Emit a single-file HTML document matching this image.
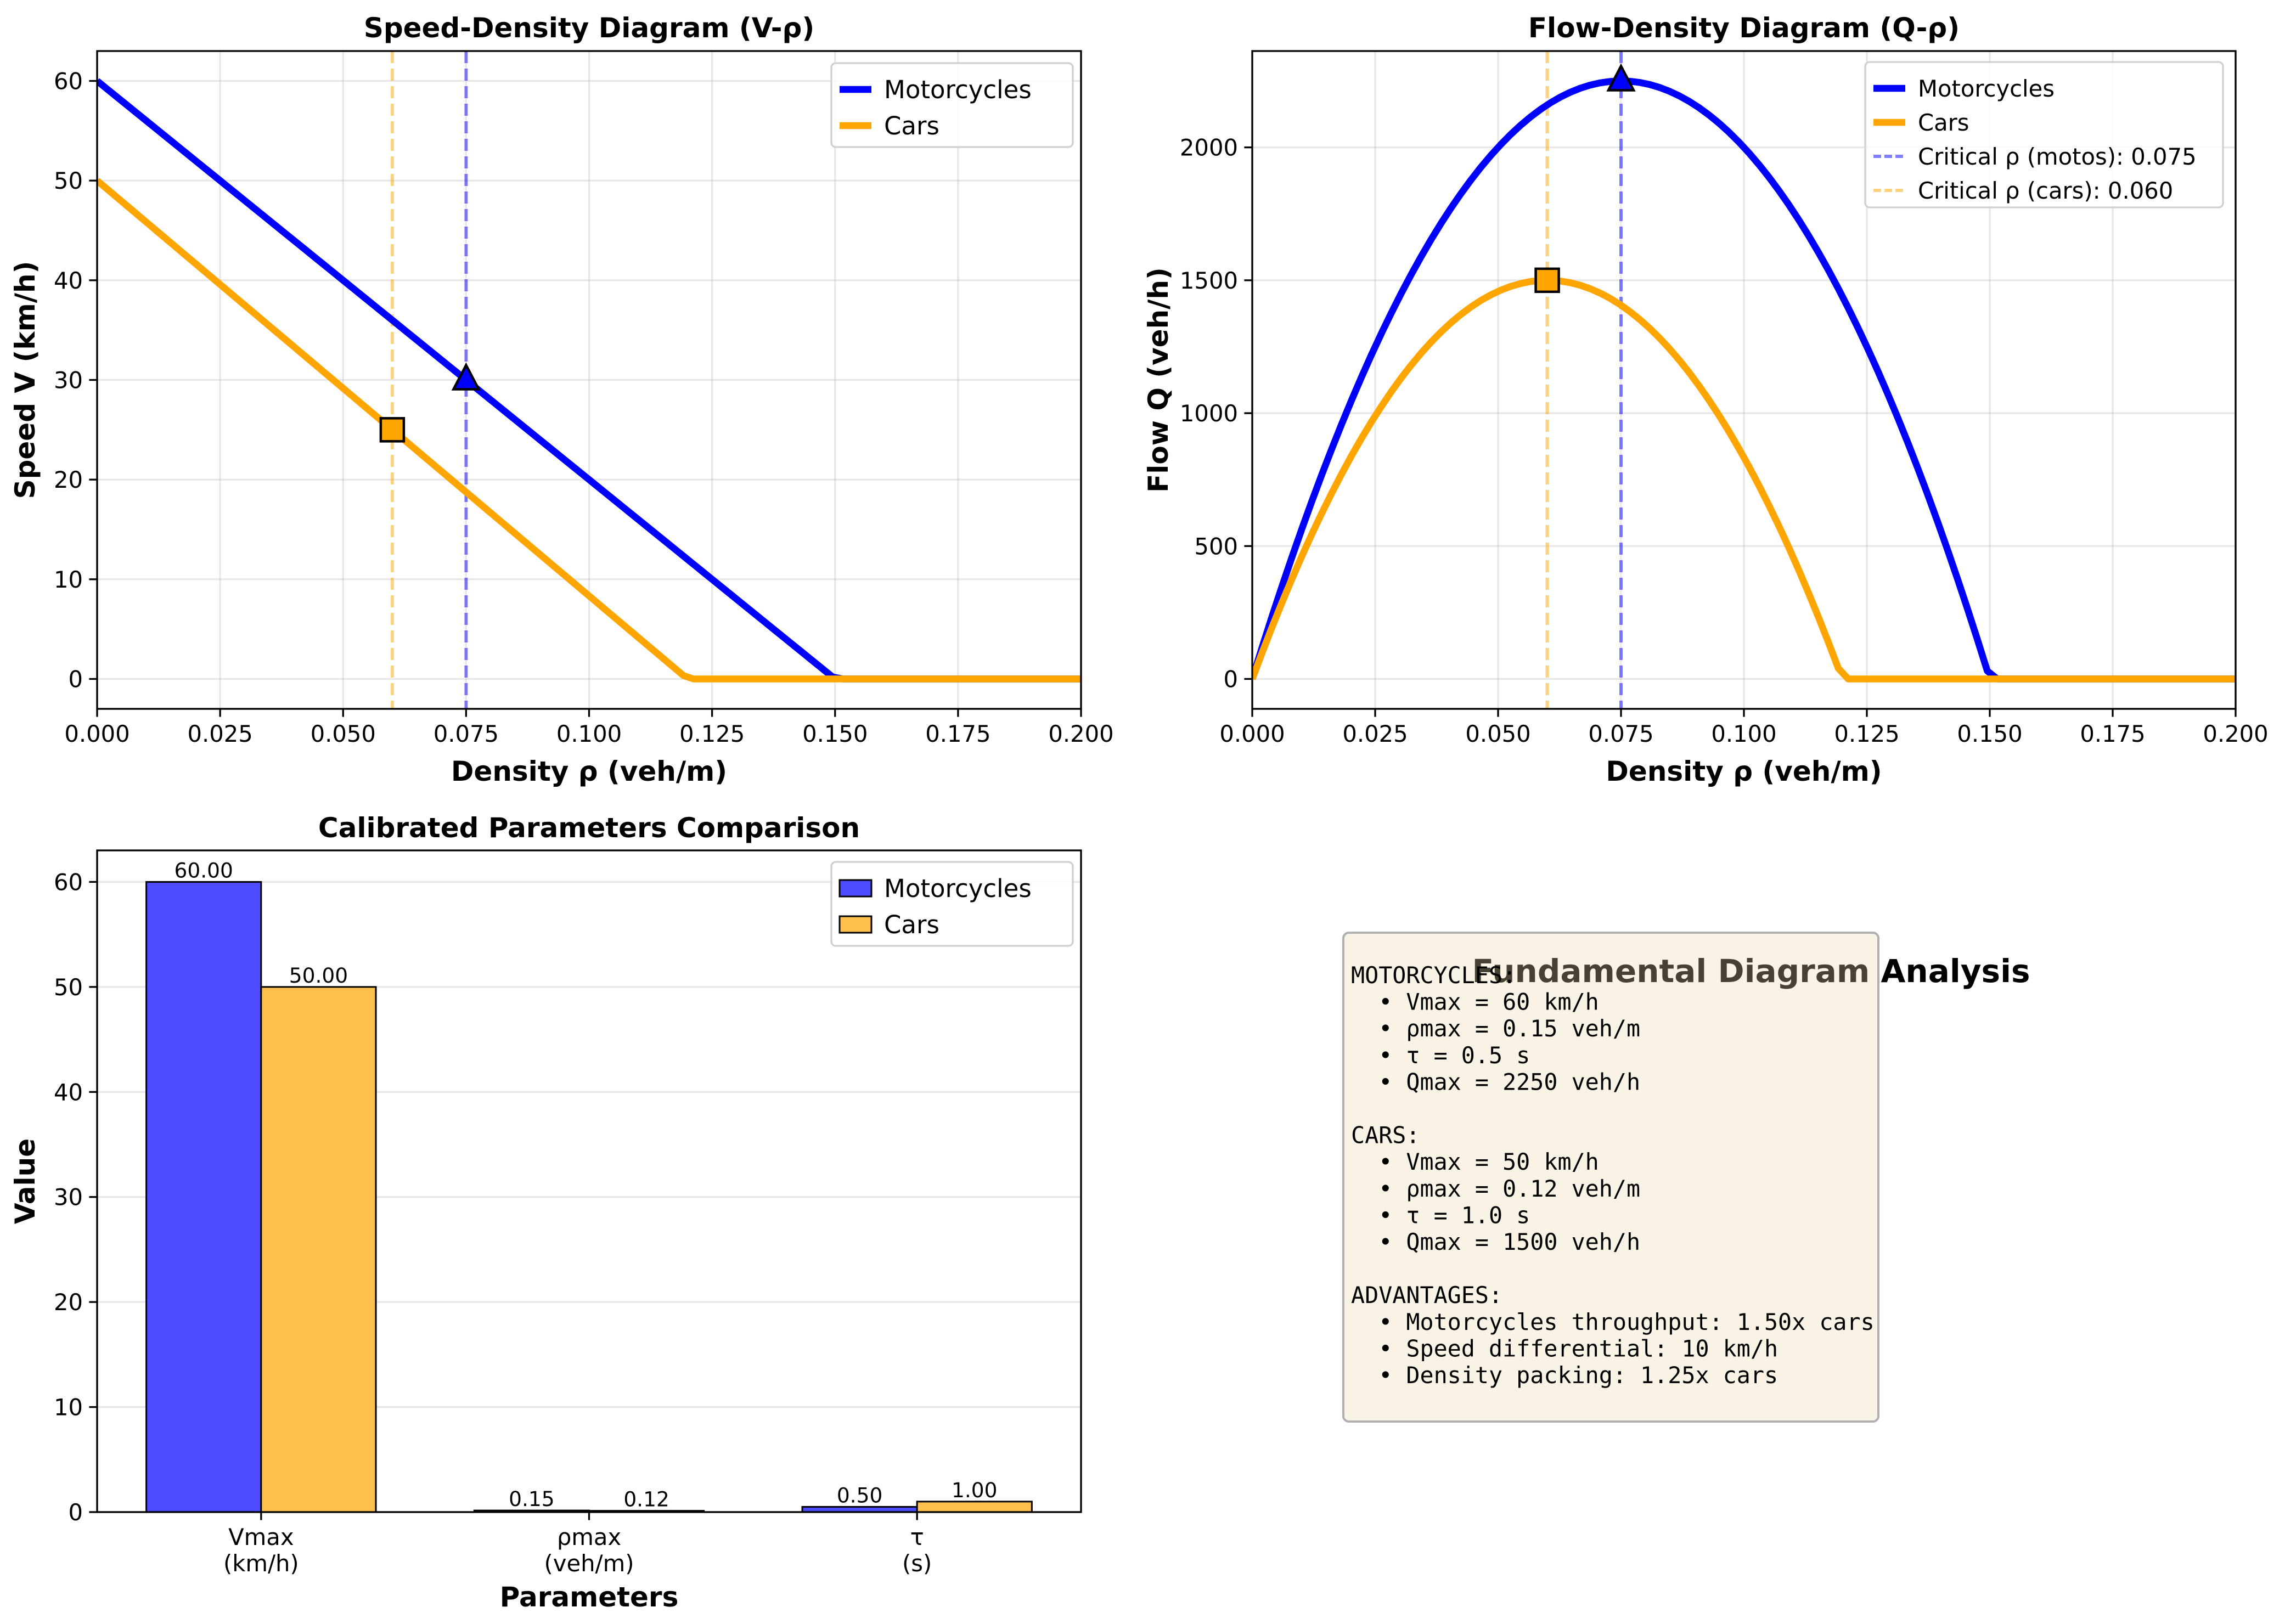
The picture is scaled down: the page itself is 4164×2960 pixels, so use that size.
<!DOCTYPE html>
<html><head><meta charset="utf-8"><style>
html,body{margin:0;padding:0;background:#fff;}
svg{display:block;font-family:"DejaVu Sans","Liberation Sans",sans-serif;}
</style></head><body>
<svg id="fig" width="4164" height="2960" viewBox="0 0 4164 2960" xmlns="http://www.w3.org/2000/svg"></svg>
<script>
// ---- data ----
const vehicleTypes = ["Motorcycles", "Cars"];
const vmaxValues = [60, 50];
const rhomaxValues = [0.15, 0.12];
const tauValues = [0.5, 1.0];
const criticalRho = [0.075, 0.060];
const criticalSpeed = [30, 25];
const maxFlow = [2250, 1500];
const paramCategories = ["Vmax\n(km/h)", "ρmax\n(veh/m)", "τ\n(s)"];
const motoParams = [60.00, 0.15, 0.50];
const carParams = [50.00, 0.12, 1.00];
const densityTicks = [0, 0.025, 0.05, 0.075, 0.1, 0.125, 0.15, 0.175, 0.2];
const densityTickLabels = ["0.000","0.025","0.050","0.075","0.100","0.125","0.150","0.175","0.200"];
const speedTicks = [0, 10, 20, 30, 40, 50, 60];
const flowTicks = [0, 500, 1000, 1500, 2000];
const valueTicks = [0, 10, 20, 30, 40, 50, 60];

const NS = "http://www.w3.org/2000/svg";
const svg = document.getElementById("fig");
function mk(tag, attrs, parent) {
  const e = document.createElementNS(NS, tag);
  for (const k in attrs) e.setAttribute(k, attrs[k]);
  (parent || svg).appendChild(e);
  return e;
}
const COLORS = ["#0000ff", "#ffa500"];
const TICK_FS = 41.7;

function makeAxes(name, L, R, T, B, xmin, xmax, ymin, ymax) {
  const g = mk("g", {});
  
  
  return {g, L, R, T, B,
    X: v => L + (v - xmin) / (xmax - xmin) * (R - L),
    Y: v => B - (v - ymin) / (ymax - ymin) * (B - T)};
}
function gridAndTicks(ax, xt, xl, yt, ylab) {
  const gg = mk("g", {}, ax.g);
  
  
  if (xt) xt.forEach(v => mk("line", {x1: ax.X(v), x2: ax.X(v), y1: ax.T, y2: ax.B, stroke: "#b0b0b0", "stroke-opacity": 0.3, "stroke-width": 3.3}, gg));
  yt.forEach(v => mk("line", {x1: ax.L, x2: ax.R, y1: ax.Y(v), y2: ax.Y(v), stroke: "#b0b0b0", "stroke-opacity": 0.3, "stroke-width": 3.3}, gg));
  const tg = mk("g", {}, ax.g);
  
  
  yt.forEach((v, i) => {
    const y = ax.Y(v);
    mk("line", {x1: ax.L - 14.6, x2: ax.L, y1: y, y2: y, stroke: "#000", "stroke-width": 3.3}, tg);
    const t = mk("text", {x: ax.L - 26, y: y + 15, "text-anchor": "end", "font-size": TICK_FS}, tg);
    t.textContent = ylab ? ylab[i] : String(v);
  });
  if (xt) {
    const xg = mk("g", {}, ax.g);
    
    
    xt.forEach((v, i) => {
      const x = ax.X(v);
      mk("line", {x1: x, x2: x, y1: ax.B, y2: ax.B + 14.6, stroke: "#000", "stroke-width": 3.3}, xg);
      const t = mk("text", {x: x, y: ax.B + 60, "text-anchor": "middle", "font-size": TICK_FS}, xg);
      t.textContent = xl[i];
    });
  }
}
function frame(ax) {
  mk("rect", {x: ax.L, y: ax.T, width: ax.R - ax.L, height: ax.B - ax.T, fill: "none", stroke: "#000", "stroke-width": 3.3}, ax.g);
}
function label(ax, txt, x, y, rot, fs, name) {
  const t = mk("text", {x: x, y: y, "text-anchor": "middle", "font-size": fs, "font-weight": "bold"}, ax.g);
  if (rot) t.setAttribute("transform", `rotate(-90 ${x} ${y})`);
  t.textContent = txt;
  
  
}
function clipFor(ax, id) {
  const cp = mk("clipPath", {id: id}, ax.g);
  mk("rect", {x: ax.L, y: ax.T, width: ax.R - ax.L, height: ax.B - ax.T}, cp);
}
const densSamples = [];
for (let i = 0; i < 100; i++) densSamples.push(0.2 * i / 99);
function speed(k, r) { return Math.max(0, vmaxValues[k] * (1 - r / rhomaxValues[k])); }

function legend(ax, x, y, w, h, fs, entries, pitch, name) {
  const lg = mk("g", {}, ax.g);
  
  
  mk("rect", {x: x, y: y, width: w, height: h, rx: 8, fill: "#fff", "fill-opacity": 0.8, stroke: "#d0d0d0", "stroke-width": 3.3}, lg);
  entries.forEach((e, i) => {
    const cy = y + 48 + i * pitch;
    if (e.type === "line") mk("line", {x1: x + 15, x2: x + 73, y1: cy, y2: cy, stroke: e.color, "stroke-width": e.w, "stroke-opacity": e.op || 1, "stroke-dasharray": e.dash || "none"}, lg);
    else mk("rect", {x: x + 15, y: cy - 15, width: 58, height: 30, fill: e.color, stroke: "#000", "stroke-width": 3}, lg);
    const t = mk("text", {x: x + 96, y: cy + fs * 0.36, "font-size": fs}, lg);
    t.textContent = e.label;
    
    
  });
}
function marker(ax, g, type, x, y, color) {
  if (type === "tri") mk("polygon", {points: `${x},${y - 27} ${x - 23},${y + 17} ${x + 23},${y + 17}`, fill: color, stroke: "#000", "stroke-width": 4.5}, g);
  else mk("rect", {x: x - 21, y: y - 21, width: 42, height: 42, fill: color, stroke: "#000", "stroke-width": 4.5}, g);
}

// ---- Axes 1: Speed-Density ----
(function () {
  const ax = makeAxes("speed-density-chart", 177, 1970, 93, 1292, 0, 0.2, -3, 63);
  gridAndTicks(ax, densityTicks, densityTickLabels, speedTicks);
  clipFor(ax, "c1");
  const pg = mk("g", {"clip-path": "url(#c1)"}, ax.g);
  criticalRho.forEach((r, k) => {
    const l = mk("line", {x1: ax.X(r), x2: ax.X(r), y1: ax.T, y2: ax.B, stroke: COLORS[k], "stroke-opacity": 0.5, "stroke-width": 6, "stroke-dasharray": "22,10"}, pg);
    
    
  });
  vehicleTypes.forEach((v, k) => {
    const p = mk("polyline", {points: densSamples.map(r => ax.X(r) + "," + ax.Y(speed(k, r))).join(" "), fill: "none", stroke: COLORS[k], "stroke-width": 12.5, "stroke-linejoin": "round"}, pg);
    
    
  });
  marker(ax, pg, "tri", ax.X(criticalRho[0]), ax.Y(criticalSpeed[0]), COLORS[0]);
  marker(ax, pg, "sq", ax.X(criticalRho[1]), ax.Y(criticalSpeed[1]), COLORS[1]);
  frame(ax);
  label(ax, "Speed-Density Diagram (V-ρ)", (ax.L + ax.R) / 2, 68, false, 50, "chart-title");
  label(ax, "Density ρ (veh/m)", (ax.L + ax.R) / 2, 1423, false, 50, "x-axis-title");
  label(ax, "Speed V (km/h)", 63, (ax.T + ax.B) / 2, true, 50, "y-axis-title");
  legend(ax, 1515, 115, 440, 153, 45, [{type: "line", color: COLORS[0], w: 12.5, label: "Motorcycles"}, {type: "line", color: COLORS[1], w: 12.5, label: "Cars"}], 66, "legend");
})();

// ---- Axes 2: Flow-Density ----
(function () {
  const ax = makeAxes("flow-density-chart", 2282, 4074, 93, 1292, 0, 0.2, -112.5, 2362.5);
  gridAndTicks(ax, densityTicks, densityTickLabels, flowTicks);
  clipFor(ax, "c2");
  const pg = mk("g", {"clip-path": "url(#c2)"}, ax.g);
  criticalRho.forEach((r, k) => {
    const l = mk("line", {x1: ax.X(r), x2: ax.X(r), y1: ax.T, y2: ax.B, stroke: COLORS[k], "stroke-opacity": 0.5, "stroke-width": 6, "stroke-dasharray": "22,10"}, pg);
    
    
  });
  vehicleTypes.forEach((v, k) => {
    const p = mk("polyline", {points: densSamples.map(r => ax.X(r) + "," + ax.Y(1000 * r * speed(k, r))).join(" "), fill: "none", stroke: COLORS[k], "stroke-width": 12.5, "stroke-linejoin": "round"}, pg);
    
    
  });
  marker(ax, pg, "tri", ax.X(criticalRho[0]), ax.Y(maxFlow[0]), COLORS[0]);
  marker(ax, pg, "sq", ax.X(criticalRho[1]), ax.Y(maxFlow[1]), COLORS[1]);
  frame(ax);
  label(ax, "Flow-Density Diagram (Q-ρ)", (ax.L + ax.R) / 2, 68, false, 50, "chart-title");
  label(ax, "Density ρ (veh/m)", (ax.L + ax.R) / 2, 1423, false, 50, "x-axis-title");
  label(ax, "Flow Q (veh/h)", 2128, (ax.T + ax.B) / 2, true, 50, "y-axis-title");
  legend(ax, 3399, 113, 652, 265, 41.7, [
    {type: "line", color: COLORS[0], w: 12.5, label: "Motorcycles"},
    {type: "line", color: COLORS[1], w: 12.5, label: "Cars"},
    {type: "line", color: COLORS[0], w: 6, op: 0.5, dash: "14,6", label: "Critical ρ (motos): " + criticalRho[0].toFixed(3)},
    {type: "line", color: COLORS[1], w: 6, op: 0.5, dash: "14,6", label: "Critical ρ (cars): " + criticalRho[1].toFixed(3)}], 62, "legend");
})();

// ---- Axes 3: bars ----
(function () {
  const ax = makeAxes("parameters-bar-chart", 177, 1970, 1550, 2756, -0.5, 2.5, 0, 63);
  gridAndTicks(ax, null, null, valueTicks);
  const bw = 0.35;
  const series = [motoParams, carParams];
  const fills = ["#4d4dff", "#ffc04d"];
  series.forEach((vals, k) => {
    vals.forEach((v, i) => {
      const x0 = ax.X(i - bw + k * bw), x1 = ax.X(i + k * bw);
      const b = mk("rect", {x: x0, y: ax.Y(v), width: x1 - x0, height: ax.Y(0) - ax.Y(v), fill: fills[k], stroke: "#000", "stroke-width": 3}, ax.g);
      
      
      const t = mk("text", {x: (x0 + x1) / 2, y: ax.Y(v) - 8, "text-anchor": "middle", "font-size": 37.5}, ax.g);
      t.textContent = v.toFixed(2);
      
      
    });
  });
  const xg = mk("g", {}, ax.g);
  
  
  paramCategories.forEach((c, i) => {
    const x = ax.X(i);
    mk("line", {x1: x, x2: x, y1: ax.B, y2: ax.B + 14.6, stroke: "#000", "stroke-width": 3.3}, xg);
    c.split("\n").forEach((ln, j) => {
      const t = mk("text", {x: x, y: ax.B + 60 + j * 48, "text-anchor": "middle", "font-size": TICK_FS}, xg);
      t.textContent = ln;
    });
  });
  frame(ax);
  label(ax, "Calibrated Parameters Comparison", (ax.L + ax.R) / 2, 1526, false, 50, "chart-title");
  label(ax, "Parameters", (ax.L + ax.R) / 2, 2928, false, 50, "x-axis-title");
  label(ax, "Value", 63, (ax.T + ax.B) / 2, true, 50, "y-axis-title");
  legend(ax, 1515, 1571, 440, 153, 45, [{type: "rect", color: fills[0], label: "Motorcycles"}, {type: "rect", color: fills[1], label: "Cars"}], 66, "legend");
})();

// ---- Summary text panel ----
(function () {
  const g = mk("g", {});
  
  
  const tt = mk("text", {x: 3191, y: 1790, "text-anchor": "middle", "font-size": 58, "font-weight": "bold"}, g);
  tt.textContent = "Fundamental Diagram Analysis";
  
  
  mk("rect", {x: 2448, y: 1700, width: 975, height: 891, rx: 10, fill: "rgb(235,215,172)", "fill-opacity": 0.3, stroke: "#b0b0b0", "stroke-width": 4}, g);
  const lines = [
    "MOTORCYCLES:",
    "  • Vmax = " + vmaxValues[0] + " km/h",
    "  • ρmax = " + rhomaxValues[0] + " veh/m",
    "  • τ = " + tauValues[0].toFixed(1) + " s",
    "  • Qmax = " + maxFlow[0] + " veh/h",
    "",
    "CARS:",
    "  • Vmax = " + vmaxValues[1] + " km/h",
    "  • ρmax = " + rhomaxValues[1] + " veh/m",
    "  • τ = " + tauValues[1].toFixed(1) + " s",
    "  • Qmax = " + maxFlow[1] + " veh/h",
    "",
    "ADVANTAGES:",
    "  • Motorcycles throughput: " + (maxFlow[0] / maxFlow[1]).toFixed(2) + "x cars",
    "  • Speed differential: " + (vmaxValues[0] - vmaxValues[1]) + " km/h",
    "  • Density packing: " + (rhomaxValues[0] / rhomaxValues[1]).toFixed(2) + "x cars"];
  lines.forEach((ln, i) => {
    const t = mk("text", {x: 2462, y: 1792 + i * 48.6, "font-size": 41.7, "font-family": "'DejaVu Sans Mono','Liberation Mono',monospace", "xml:space": "preserve"}, g);
    t.textContent = ln.replace(/ /g, "\u00a0");
  });
})();
</script>
</body></html>
